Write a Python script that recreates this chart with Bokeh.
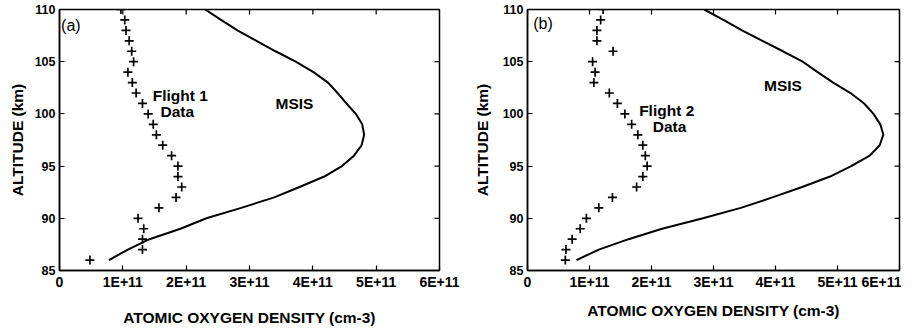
import math
from bokeh.plotting import figure
from bokeh.models import Range1d, FixedTicker, Label
from bokeh.layouts import row
from bokeh.embed import file_html
from bokeh.resources import INLINE

# Density values in units of 1E+11 cm-3
x_ticks = [0, 1, 2, 3, 4, 5, 6]
x_tick_labels = ["0", "1E+11", "2E+11", "3E+11", "4E+11", "5E+11", "6E+11"]
y_ticks = [85, 90, 95, 100, 105, 110]

data_alt = [110, 109, 108, 107, 106, 105, 104, 103, 102, 101, 100, 99, 98,
            97, 96, 95, 94, 93, 92, 91, 90, 89, 88, 87, 86]
flight1_density = [0.97, 1.03, 1.05, 1.10, 1.14, 1.17, 1.08, 1.15, 1.21, 1.31,
                   1.40, 1.48, 1.53, 1.63, 1.77, 1.87, 1.87, 1.93, 1.84, 1.57,
                   1.24, 1.33, 1.31, 1.31, 0.48]
flight2_density = [1.22, 1.18, 1.12, 1.12, 1.38, 1.05, 1.09, 1.07, 1.32, 1.45,
                   1.57, 1.68, 1.78, 1.86, 1.90, 1.93, 1.86, 1.76, 1.37, 1.15,
                   0.95, 0.85, 0.72, 0.62, 0.61]

msis_alt = [86, 87, 88, 89, 90, 91, 92, 93, 94, 95, 96, 97, 98, 99, 100,
            101, 102, 103, 104, 105, 106, 107, 108, 109, 110]
msis1_density = [0.78, 1.08, 1.42, 1.91, 2.32, 2.87, 3.39, 3.79, 4.18, 4.46,
                 4.65, 4.77, 4.81, 4.78, 4.68, 4.53, 4.39, 4.24, 4.01, 3.73,
                 3.41, 3.11, 2.81, 2.55, 2.30]
msis2_density = [0.79, 1.15, 1.63, 2.17, 2.83, 3.44, 3.95, 4.43, 4.88, 5.22,
                 5.52, 5.68, 5.74, 5.69, 5.58, 5.43, 5.21, 4.93, 4.68, 4.44,
                 4.12, 3.79, 3.46, 3.16, 2.85]

FONT = "Liberation Sans"
X_MIN, X_MAX = 0, 6
Y_MIN, Y_MAX = 85, 110


def make_panel(tag, flight_name, dens, msis, width, left, right, title_standoff,
               ylabel_standoff, tag_xy, flight_xy, data_xy, msis_xy):
    p = figure(width=width, height=330, output_backend="svg", toolbar_location=None,
               x_range=Range1d(X_MIN, X_MAX), y_range=Range1d(Y_MIN, Y_MAX),
               min_border_left=left, min_border_right=right,
               min_border_top=9, min_border_bottom=60)
    p.grid.visible = False
    p.outline_line_color = "black"
    p.outline_line_width = 1.5
    p.background_fill_color = "white"
    p.border_fill_color = "white"

    for ax in (p.xaxis[0], p.yaxis[0]):
        ax.axis_line_color = "black"
        ax.axis_line_width = 1.5
        ax.major_tick_in = 5
        ax.major_tick_out = 0
        ax.minor_tick_in = 0
        ax.minor_tick_out = 0
        ax.major_tick_line_width = 1.2
        ax.major_label_text_font = FONT
        ax.major_label_text_font_style = "bold"
        ax.major_label_text_color = "black"
        ax.axis_label_text_font = FONT
        ax.axis_label_text_font_style = "bold"
        ax.axis_label_text_font_size = "15.5px"
        ax.axis_label_text_color = "black"

    p.xaxis[0].ticker = FixedTicker(ticks=x_ticks)
    p.xaxis[0].major_label_overrides = {t: l for t, l in zip(x_ticks, x_tick_labels)}
    p.xaxis[0].major_label_text_font_size = "14px"
    p.xaxis[0].axis_label = "ATOMIC OXYGEN DENSITY (cm-3)"
    p.xaxis[0].axis_label_standoff = title_standoff
    p.xaxis[0].major_label_standoff = 3

    p.yaxis[0].ticker = FixedTicker(ticks=y_ticks)
    p.yaxis[0].major_label_text_font_size = "12.5px"
    p.yaxis[0].axis_label = "ALTITUDE (km)"
    p.yaxis[0].major_label_standoff = 4
    p.yaxis[0].axis_label_standoff = ylabel_standoff

    # inward tick marks on the top and right frame edges (half of each dash is clipped)
    p.scatter([X_MAX] * len(y_ticks), y_ticks, marker="dash", size=10,
              line_color="black", line_width=1.2)
    p.scatter(x_ticks, [Y_MAX] * len(x_ticks), marker="dash", size=10, angle=math.pi / 2,
              line_color="black", line_width=1.2)

    p.line(msis, msis_alt, line_color="black", line_width=2)
    p.scatter(dens, data_alt, marker="cross", size=9, line_width=1.7,
              line_color="black")

    p.add_layout(Label(x=tag_xy[0], y=tag_xy[1], text=tag, text_font=FONT,
                       text_font_size="16px", text_align="center",
                       text_baseline="middle", text_color="black"))
    for txt, (tx, ty) in ((flight_name, flight_xy), ("Data", data_xy), ("MSIS", msis_xy)):
        p.add_layout(Label(x=tx, y=ty, text=txt, text_font=FONT,
                           text_font_size="15.5px", text_font_style="bold",
                           text_align="center", text_baseline="middle",
                           text_color="black"))
    return p


pa = make_panel("(a)", "Flight  1", flight1_density, msis1_density,
                width=470, left=59, right=31, title_standoff=16, ylabel_standoff=6,
                tag_xy=(0.18, 108.5), flight_xy=(1.94, 101.8),
                data_xy=(1.86, 100.2), msis_xy=(3.71, 101.0))
pb = make_panel("(b)", "Flight  2", flight2_density, msis2_density,
                width=431, left=52, right=2, title_standoff=9, ylabel_standoff=9,
                tag_xy=(0.25, 108.7), flight_xy=(2.28, 100.3),
                data_xy=(2.29, 98.8), msis_xy=(4.12, 102.7))

layout = row(pa, pb)
open("out.html", "w").write(file_html(layout, INLINE))
